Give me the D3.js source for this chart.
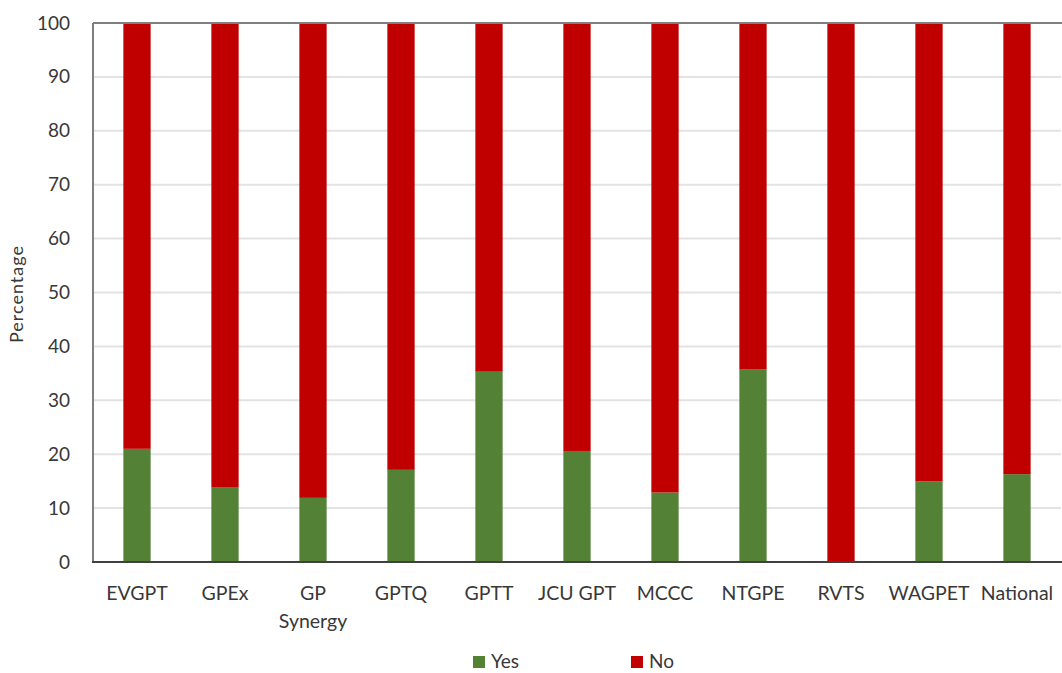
<!DOCTYPE html>
<html>
<head>
<meta charset="utf-8">
<script src="https://cdn.jsdelivr.net/npm/d3@7"></script>
<style>
  html, body { margin: 0; padding: 0; background: #fff; }
  svg { display: block; font-family: Lato, "Open Sans", sans-serif; }
</style>
</head>
<body>
<svg id="chart" width="1062" height="673"></svg>
<script>
// Training regions and the share of respondents answering Yes / No (%)
const categories = ["EVGPT", "GPEx", "GP Synergy", "GPTQ", "GPTT", "JCU GPT", "MCCC", "NTGPE", "RVTS", "WAGPET", "National"];
const yesValues = [21.0, 13.8, 11.9, 17.1, 35.3, 20.6, 12.9, 35.7, 0, 15.0, 16.3];
const noValues = yesValues.map(v => 100 - v);
const seriesNames = ["Yes", "No"];
const seriesColors = ["#538135", "#C00000"];
const yTicks = [0, 10, 20, 30, 40, 50, 60, 70, 80, 90, 100];

const svg = d3.select("#chart");
const margin = { left: 93, right: 1, top: 23, bottom: 111 };
const W = 1062, H = 673;
const x0 = margin.left, x1 = W - margin.right;
const y0 = H - margin.bottom, y1 = margin.top;
const textColor = "#383838";

const x = d3.scaleBand().domain(categories).range([x0, x1]).paddingInner(0.69).paddingOuter(0.345);
const y = d3.scaleLinear().domain([0, 100]).range([y0, y1]);

// gridlines
svg.append("g")
  .selectAll("line")
  .data(yTicks.filter(t => t > 0 && t < 100))
  .join("line")
  .attr("x1", x0).attr("x2", x1)
  .attr("y1", d => y(d)).attr("y2", d => y(d))
  .attr("stroke", "#e3e3e3").attr("stroke-width", 2);

// stacked bars
const rows = categories.map((c, i) => ({ cat: c, Yes: yesValues[i], No: noValues[i] }));
const stacked = d3.stack().keys(seriesNames)(rows);
svg.append("g")
  .selectAll("g")
  .data(stacked)
  .join("g")
  .attr("fill", (d, i) => seriesColors[i])
  .selectAll("rect")
  .data(d => d)
  .join("rect")
  .attr("x", d => x(d.data.cat))
  .attr("width", x.bandwidth())
  .attr("y", d => y(d[1]))
  .attr("height", d => y(d[0]) - y(d[1]));

// plot frame
const frame = svg.append("g").attr("stroke", "#7f7f7f").attr("stroke-width", 2).attr("fill", "none");
frame.append("line").attr("x1", x0).attr("x2", x0).attr("y1", y1).attr("y2", y0);
frame.append("line").attr("x1", x0).attr("x2", W).attr("y1", y1).attr("y2", y1);
frame.append("line").attr("x1", x0 - 1).attr("x2", W).attr("y1", y0).attr("y2", y0).attr("stroke", "#404040");

// y axis labels
const yAxis = d3.axisLeft(y).tickValues(yTicks).tickSize(0).tickPadding(23);
const gy = svg.append("g").attr("transform", `translate(${x0},0)`).call(yAxis);
gy.select(".domain").remove();
gy.selectAll("text").attr("font-size", 19).attr("fill", textColor).attr("font-family", "Lato, sans-serif");

// x axis labels (wrapped on spaces where the label is long)
const gx = svg.append("g").attr("transform", `translate(0,${y0})`);
categories.forEach(c => {
  const words = c === "GP Synergy" ? ["GP", "Synergy"] : [c];
  const t = gx.append("text")
    .attr("x", x(c) + x.bandwidth() / 2)
    .attr("y", 38)
    .attr("text-anchor", "middle")
    .attr("font-size", 19.5)
    .attr("fill", textColor);
  words.forEach((w, i) => {
    t.append("tspan").attr("x", x(c) + x.bandwidth() / 2).attr("dy", i === 0 ? 0 : 28).text(w);
  });
});

// y axis title
svg.append("text")
  .attr("transform", "translate(23,294) rotate(-90)")
  .attr("text-anchor", "middle")
  .attr("font-size", 18)
  .attr("letter-spacing", 1)
  .attr("fill", textColor)
  .text("Percentage");

// legend
const legendX = [473, 631];
const legend = svg.append("g");
seriesNames.forEach((name, i) => {
  legend.append("rect")
    .attr("x", legendX[i]).attr("y", 656)
    .attr("width", 12).attr("height", 12)
    .attr("fill", seriesColors[i]);
  legend.append("text")
    .attr("x", legendX[i] + 18).attr("y", 668)
    .attr("font-size", 19)
    .attr("fill", textColor)
    .text(name);
});
</script>
</body>
</html>
